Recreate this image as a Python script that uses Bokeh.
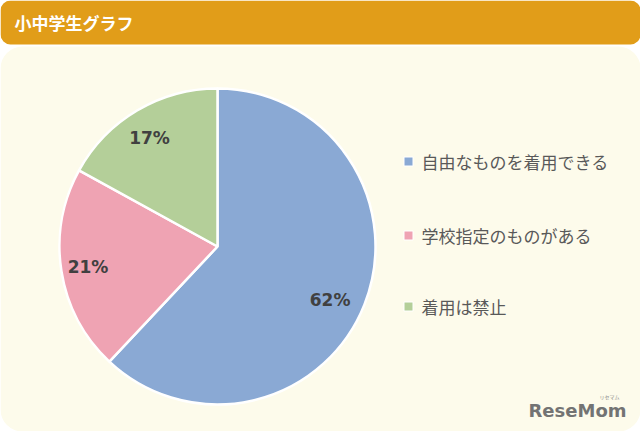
import numpy as np
from bokeh.plotting import figure
from bokeh.models import Range1d, BoxAnnotation, ColumnDataSource
from bokeh.core.properties import value
from bokeh.embed import file_html
from bokeh.resources import INLINE

# ---- data ----
title = "小中学生グラフ"
categories = ["自由なものを着用できる", "学校指定のものがある", "着用は禁止"]
shares = [62, 21, 17]
labels = ["62%", "21%", "17%"]
colors = ["#8AA9D4", "#EFA3B3", "#B4CF99"]

W, H = 640, 431  # reference coordinate space
PW, PH = 640, 431
p = figure(width=PW, height=PH, x_range=Range1d(0, W), y_range=Range1d(0, H),
           output_backend="svg", toolbar_location=None, min_border=0,
           background_fill_color="white", border_fill_color="white")
p.outline_line_color = None
p.axis.visible = False
p.grid.visible = False

def Y(y):
    return H - y

# frame
p.add_layout(BoxAnnotation(left=0, right=W, bottom=0, top=Y(46), fill_color="#FDFBEB",
                           fill_alpha=1, line_color=None, border_radius=22, level="underlay"))
p.add_layout(BoxAnnotation(left=0, right=W, bottom=Y(44), top=Y(0), fill_color="#E19D19",
                           fill_alpha=1, line_color=None, border_radius=10, level="underlay"))
p.text(x=[14], y=[Y(22)], text=[title], text_color="white", text_font=value("Noto Sans CJK JP"),
       text_font_style="bold", text_font_size="17px", text_baseline="middle", text_align="left")

# pie
cx, cy, r = 217, Y(246), 158
fr = np.array(shares) / sum(shares)
ends = np.pi / 2 - np.cumsum(np.concatenate([[0], fr]))[:-1] * 2 * np.pi
starts = np.pi / 2 - np.cumsum(fr) * 2 * np.pi
src = ColumnDataSource(dict(start=starts, end=ends, color=colors))
p.wedge(x=cx, y=cy, radius=r, start_angle="start", end_angle="end", fill_color="color",
        line_color="white", line_width=2.5, source=src)

# labels placed along mid angle (small best-fit offsets)
mid = (starts + ends) / 2 + np.radians([-4.0, 0.0, 1.5])
lr = np.array([0.79, 0.83, 0.81])
aspect = (PW / W) / (PH / H)
lx = cx + lr * r * np.cos(mid)
ly = cy + lr * r * np.sin(mid) * aspect
p.text(x=lx, y=ly, text=labels, text_color="#404040", text_font=value("DejaVu Sans"),
       text_font_style="bold", text_font_size="17px", text_align="center", text_baseline="middle")

# legend
ly_leg = [Y(161), Y(235), Y(306)]
p.scatter(x=[408] * 3, y=ly_leg, marker="square", size=9, fill_color=colors, line_color="white",
          line_width=1)
p.text(x=[421] * 3, y=ly_leg, text=categories, text_color="#595959",
       text_font=value("Noto Sans CJK JP"), text_font_size="17px", text_baseline="middle",
       text_align="left")

# logo
p.text(x=[577], y=[Y(410)], text=["ReseMom"], text_color="#737373", text_font=value("DejaVu Sans"),
       text_font_style="bold", text_font_size="18px", text_align="center", text_baseline="middle")
p.text(x=[609], y=[Y(396)], text=["リセマム"], text_color="#8a8a8a",
       text_font=value("Noto Sans CJK JP"), text_font_size="5px", text_align="center",
       text_baseline="middle")

open("out.html", "w").write(file_html(p, INLINE))
